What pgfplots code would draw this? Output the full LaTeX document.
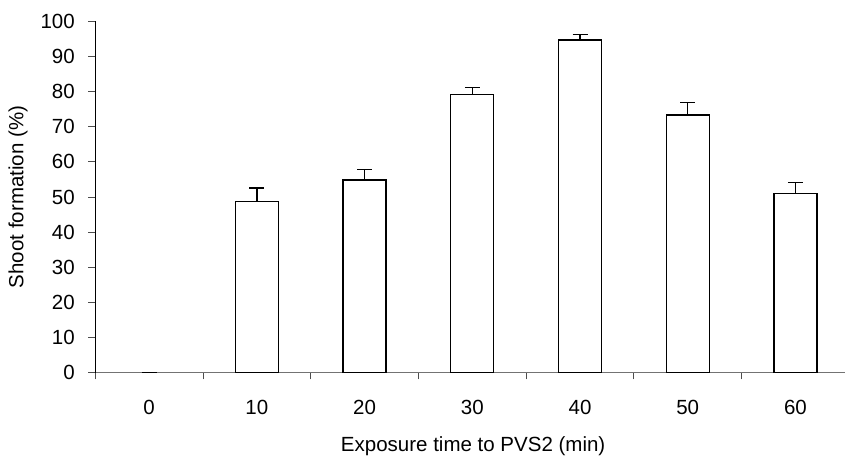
\documentclass[border=0pt]{standalone}
\usepackage{fontspec}
\setmainfont{Liberation Sans}
\usepackage{pgfplots}
\pgfplotsset{compat=1.18}
\usetikzlibrary{calc}

% shoot formation (%) per exposure time, with upper error
\pgfplotstableread{
x  y     err
1  48.8  3.8
2  54.8  3.0
3  79.2  1.9
4  94.7  1.5
5  73.3  3.6
6  50.9  3.3
}\shoots

\begin{document}
\begin{tikzpicture}
\begin{axis}[
  scale only axis, width=749.7pt, height=351.4pt,
  xmin=-0.5, xmax=6.46, ymin=0, ymax=100,
  axis x line*=bottom, axis y line*=left,
  x axis line style={black!55, line width=0.9pt},
  y axis line style={black, line width=0.9pt},
  font=\fontsize{20.5}{24}\selectfont,
  /pgf/number format/assume math mode=true,
  tick align=outside,
  xtick={0,...,6}, xticklabels={0,10,20,30,40,50,60},
  major x tick style={draw=none},
  minor xtick={-0.5,0.5,...,5.5},
  minor tick length=6.7pt,
  minor x tick style={black!70, line width=0.8pt},
  ytick={0,10,...,100}, major tick length=7pt,
  y tick style={black!70, line width=0.8pt},
  xticklabel style={inner sep=0pt},
  yticklabel style={inner sep=0pt},
  xticklabel shift=20.3pt,
  yticklabel shift=13.3pt,
  xlabel={Exposure time to PVS2 (min)},
  ylabel={Shoot formation (\%)},
  every axis x label/.style={at={(axis description cs:0.504,-0.209)}, anchor=center},
  every axis y label/.style={at={(axis description cs:-0.1031,0.5)}, anchor=center, rotate=90},
  clip=false,
]
  \addplot[ybar, bar width=43pt, fill=white, draw=black, line width=1.3pt,
    error bars/.cd, y dir=plus, y explicit,
    error bar style={line width=1.3pt, black},
    error mark options={rotate=90, mark size=7.5pt, line width=1.3pt, black}]
    table[x=x, y=y, y error=err] {\shoots};
  \addplot[draw=none, mark=none,
    error bars/.cd, y dir=plus, y explicit,
    error bar style={line width=1.3pt, black},
    error mark options={rotate=90, mark size=7.5pt, line width=1.3pt, black}]
    coordinates {(0,0) +- (0,0)};
\end{axis}
\pgfresetboundingbox
\useasboundingbox ($(current axis.south west)+(-95.3pt,-85.3pt)$) rectangle ($(current axis.north east)+(0pt,21.3pt)$);
\end{tikzpicture}
\end{document}
